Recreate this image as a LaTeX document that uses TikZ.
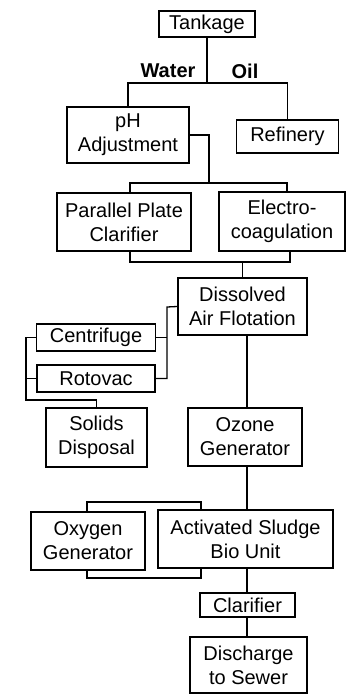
\documentclass[tikz,border=0pt]{standalone}
\usepackage{fontspec}
\setmainfont{Liberation Sans}
\usetikzlibrary{calc}
\tikzset{
  box/.style={draw, line width=1.5pt, align=center, inner sep=0pt,
    font=\fontsize{20}{24}\selectfont},
  conn/.style={line width=1.3pt},
  lbl/.style={font=\fontsize{20}{24}\selectfont\bfseries, inner sep=0pt}
}
\begin{document}
\begin{tikzpicture}[x=1pt,y=-1pt]
\useasboundingbox (0,0) rectangle (359,699);
% nodes
\node[box, minimum width=96pt, minimum height=26pt] (tank) at (207,24) {Tankage};
\node[box, minimum width=122pt, minimum height=56pt] (ph) at (128,135) {pH\\Adjustment};
\node[box, minimum width=102pt, minimum height=33pt] (ref) at (287.5,136.5) {Refinery};
\node[box, minimum width=134pt, minimum height=58pt] (pp) at (124,222) {Parallel Plate\\Clarifier};
\node[box, minimum width=126pt, minimum height=59pt] (el) at (282,221.5) {Electro-\\coagulation};
\node[box, minimum width=129pt, minimum height=57pt] (daf) at (242.5,306.5) {Dissolved\\Air Flotation};
\node[box, minimum width=119pt, minimum height=27pt] (cent) at (96,337.5) {Centrifuge};
\node[box, minimum width=118pt, minimum height=27pt] (rot) at (96,378.5) {Rotovac};
\node[box, minimum width=101pt, minimum height=59pt] (sol) at (96.5,437.5) {Solids\\Disposal};
\node[box, minimum width=114pt, minimum height=58pt] (oz) at (245,437) {Ozone\\Generator};
\node[box, minimum width=114pt, minimum height=58pt] (oxy) at (88,541) {Oxygen\\Generator};
\node[box, minimum width=175pt, minimum height=58pt] (act) at (245.5,539) {Activated Sludge\\Bio Unit};
\node[box, minimum width=95pt, minimum height=24pt] (cla) at (247.5,605) {Clarifier};
\node[box, minimum width=117pt, minimum height=56pt] (dis) at (248.5,665) {Discharge\\to Sewer};
% labels
\node[lbl] (water) at (168,71) {Water};
\node[lbl] (oil) at (245,71) {Oil};
% junction coordinates
\coordinate (wo) at (207,83);
\coordinate (s1) at (209,183);
\coordinate (j1) at (130,183);
\coordinate (j2) at (287,183);
\coordinate (b1) at (130,262);
\coordinate (b2) at (290,262);
\coordinate (c1) at (167,307);
\coordinate (l1) at (26,400);
\coordinate (vx) at (247,0);
\coordinate (o1) at (87,502);
\coordinate (o2) at (201,502);
\coordinate (o3) at (87,578);
\coordinate (o4) at (201,578);
% connectors
\draw[conn] (tank.south) -- (wo);
\draw[conn] (ph.north) |- (wo) -| (ref.north);
\draw[conn] (ph.east) -| (s1);
\draw[conn] (j1 |- pp.north) -- (j1) -- (j2) -- (j2 |- el.north);
\draw[conn] (b1 |- pp.south) -- (b1) -- (b2) -- (b2 |- el.south);
\draw[conn] (daf.north |- b1) -- (daf.north);
\draw[conn] (daf.west) -- (c1) -- (c1 |- rot.east) -- (rot.east);
\draw[conn] (cent.east) -- (cent.east -| c1);
\draw[conn] (cent.west) -- (cent.west -| l1) -- (l1) -- (l1 -| sol.north) -- (sol.north);
\draw[conn] (rot.west) -- (rot.west -| l1);
\draw[conn] (vx |- daf.south) -- (vx |- oz.north);
\draw[conn] (vx |- oz.south) -- (vx |- act.north);
\draw[conn] (vx |- act.south) -- (vx |- cla.north);
\draw[conn] (vx |- cla.south) -- (vx |- dis.north);
\draw[conn] (o1 |- oxy.north) -- (o1) -- (o2) -- (o2 |- act.north);
\draw[conn] (o3 |- oxy.south) -- (o3) -- (o4) -- (o4 |- act.south);
\end{tikzpicture}
\end{document}
